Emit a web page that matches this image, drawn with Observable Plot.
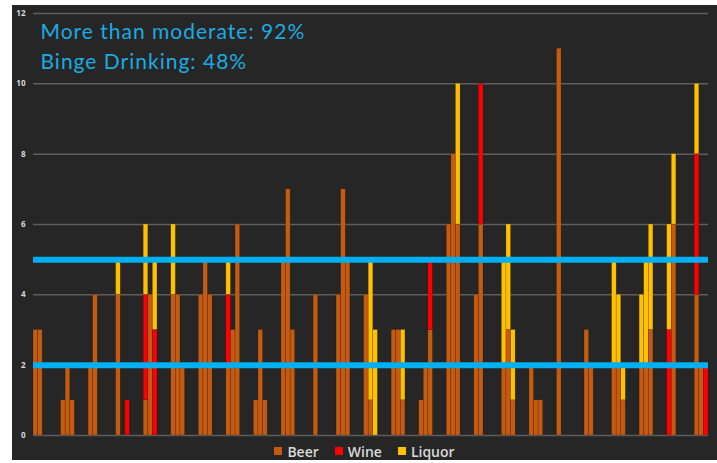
<!DOCTYPE html>
<html><head><meta charset="utf-8">
<script src="https://cdn.jsdelivr.net/npm/d3@7"></script>
<script src="https://cdn.jsdelivr.net/npm/@observablehq/plot@0.6"></script>
<style>
html,body{margin:0;padding:0;background:#ffffff;}
#chart{position:absolute;left:12px;top:5px;width:705px;height:455px;background:#262626;overflow:hidden;}
#chart svg{display:block;}
#legend{display:flex;justify-content:center;align-items:center;gap:16px;height:20px;margin-top:-4px;font-family:"Open Sans",sans-serif;font-size:14px;font-weight:600;color:#d9d9d9;}
#legend .item{display:flex;align-items:center;gap:5px;}
#legend .sw{width:8px;height:8px;display:inline-block;}
</style></head>
<body><div id="chart"></div>
<script>
const drinks = ["Beer", "Wine", "Liquor"];
const drinkColors = ["#C55A11", "#FF0000", "#FFC000"];
const groupCount = 25;
const perGroup = 3;
const groupGap = 3;
// 25 groups x 3 bars
const beer = [
  3,3,0, 1,2,1, 2,4,0, 4,0,0, 1,4,0, 4,4,2, 4,5,4, 2,3,6, 1,3,1, 5,7,3,
  0,4,0, 4,7,5, 4,1,0, 3,3,1, 1,2,3, 6,8,6, 4,6,0, 2,3,1, 2,1,1, 11,0,0,
  3,2,0, 2,2,1, 2,2,3, 0,6,0, 4,2,0
];
const wine = [
  0,0,0, 0,0,0, 0,0,0, 0,0,1, 3,0,3, 0,0,0, 0,0,0, 2,0,0, 0,0,0, 0,0,0,
  0,0,0, 0,0,0, 0,0,0, 0,0,0, 0,0,2, 0,0,0, 0,4,0, 0,0,0, 0,0,0, 0,0,0,
  0,0,0, 0,0,0, 0,0,0, 3,0,0, 4,0,2
];
const liquor = [
  0,0,0, 0,0,0, 0,0,0, 1,0,0, 2,0,2, 2,0,0, 0,0,0, 1,0,0, 0,0,0, 0,0,0,
  0,0,0, 0,0,0, 0,4,3, 0,0,2, 0,0,0, 0,0,4, 0,0,0, 3,3,2, 0,0,0, 0,0,0,
  0,0,0, 3,2,1, 2,3,3, 3,2,0, 2,0,0
];
const yTicks = [0, 2, 4, 6, 8, 10, 12];
const thresholds = [2, 5];
const annotations = ["More than moderate: 92%", "Binge Drinking: 48%"];

const series = [beer, wine, liquor];
const slotCount = groupCount * (perGroup + groupGap) - groupGap;
const slots = d3.range(slotCount);
const rows = [];
for (let i = 0; i < beer.length; i++) {
  const slot = Math.floor(i / perGroup) * (perGroup + groupGap) + (i % perGroup);
  drinks.forEach((d, k) => rows.push({slot, drink: d, value: series[k][i]}));
}

const chart = Plot.plot({
  width: 705,
  height: 440,
  marginLeft: 21,
  marginRight: 9,
  marginTop: 8,
  marginBottom: 10,
  style: {background: "transparent", color: "#d9d9d9", fontFamily: "'Open Sans', sans-serif", fontSize: "8px", fontWeight: "bold"},
  x: {type: "band", domain: slots, padding: 0, axis: null},
  y: {domain: [0, 12], ticks: yTicks, tickSize: 0, tickPadding: 8, label: null},
  color: {domain: drinks, range: drinkColors},
  marks: [
    Plot.ruleY(yTicks, {stroke: "#5e5e5e", strokeWidth: 1.5}),
    Plot.barY(rows, {x: "slot", y: "value", fill: "drink", order: drinks, stroke: "#000", strokeOpacity: 0.3, strokeWidth: 0.5}),
    Plot.ruleY(thresholds, {stroke: "#00B0F0", strokeWidth: 6}),
    Plot.text([annotations.join("\n")], {
      frameAnchor: "top-left", text: d => d, textAnchor: "start", lineAnchor: "top",
      lineHeight: 1.43, fontSize: 21, fontWeight: "normal", fill: "#1DAAE2",
      fontFamily: "Lato, sans-serif", dx: 7, dy: 4
    })
  ]
});
d3.select(chart).selectAll('g[aria-label="text"] text').style("letter-spacing", "1px");
const host = document.getElementById("chart");
host.appendChild(chart);
const legend = document.createElement("div");
legend.id = "legend";
drinks.forEach((d, k) => {
  const item = document.createElement("span");
  item.className = "item";
  item.innerHTML = `<span class="sw" style="background:${drinkColors[k]}"></span><span>${d}</span>`;
  legend.appendChild(item);
});
host.appendChild(legend);
</script>
</body></html>
